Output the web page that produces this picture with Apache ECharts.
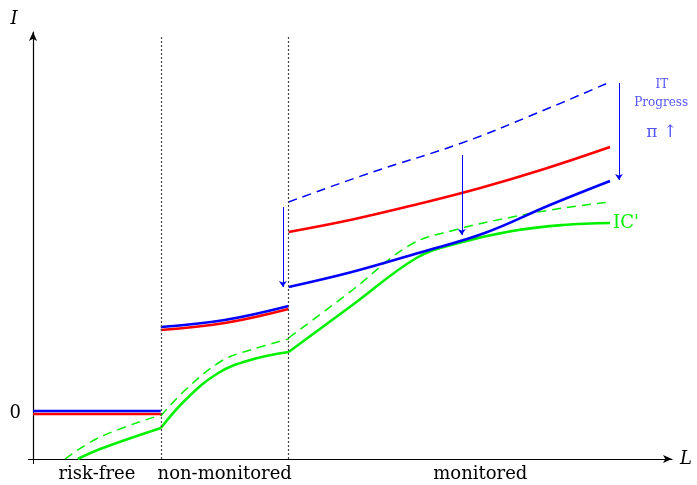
<!DOCTYPE html>
<html><head><meta charset="utf-8">
<script src="https://cdn.jsdelivr.net/npm/echarts@6/dist/echarts.min.js"></script>
<style>html,body{margin:0;padding:0;background:#fff}#c{width:697px;height:485px}</style>
</head><body><div id="c"></div>
<script>
// ---- data ----
const regionBounds = [2, 4];
const regionLabels = ['risk-free', 'non-monitored', 'monitored'];
const regionCenters = [1, 3, 7];
const yTickValues = [0];

const blueRiskFree = [[0, 0.2], [2, 0.2]];
const redRiskFree = [[0, -0.1], [2, -0.1]];
const greenRiskFree = [[0.7, -4.6], [1.05, -3.6], [2, -1.5]];
const greenDashRiskFree = [[0.5, -4.6], [1.05, -2.4], [2, -0.2]];

const blueNonMon = [[2, 8.6], [3, 9.3], [4, 10.7]];
const redNonMon = [[2, 8.3], [3, 9.0], [4, 10.4]];
const greenNonMon = [[2, -1.5], [2.4, 1.4], [2.9, 4.0], [3.4, 5.3], [4, 6.1]];
const greenDashNonMon = [[2, -0.3], [2.4, 2.4], [2.95, 5.2], [3.4, 6.3], [4, 7.4]];

const blueMon = [[4, 12.6], [4.99, 14.1], [6.03, 16.0], [7.07, 18.0], [8.09, 20.8], [9.03, 23.2]];
const redMon = [[4, 18.1], [5, 19.35], [6, 20.85], [7, 22.5], [8, 24.4], [9.03, 26.6]];
const blueDashMon = [[4, 21.1], [5.27, 24.0], [6.71, 27.0], [7.89, 30.0], [9.03, 33.1]];
const greenMon = [[4, 6.1], [5.0, 10.8], [6.0, 15.5], [6.6, 16.9], [7.5, 18.2], [8.3, 18.8], [9.03, 19.0]];
const greenDashMon = [[4, 7.5], [5.0, 12.3], [5.9, 16.8], [6.6, 18.3], [7.5, 19.6], [8.3, 20.5], [9.03, 21.1]];

const shiftArrows = [[[3.91, 20.6], [3.91, 12.6]], [[6.71, 25.8], [6.71, 17.8]], [[9.17, 33.0], [9.17, 23.3]]];
const annotationTexts = ['IT', 'Progress', 'π ↑'];
const annotationCoords = [[9.84, 32.8], [9.83, 31.0], [9.84, 28.0]];
const annotationSizes = [12, 12, 17];
const curveLabel = "IC'";

// ---- styles ----
const BLUE = '#0000ff', RED = '#ff0000', GREEN = '#00f000', NOTE = '#2828ff';
const FONT = 'DejaVu Serif';

function solid(data, color, extra) {
  return Object.assign({
    type: 'line', data: data, showSymbol: false, smooth: 0.4, clip: true,
    lineStyle: { color: color, width: 2.6 }, silent: true
  }, extra || {});
}
function dashed(data, color) {
  return {
    type: 'line', data: data, showSymbol: false, smooth: 0.4, clip: true,
    lineStyle: { color: color, width: 1.5, type: [9, 6] }, silent: true
  };
}

const chart = echarts.init(document.getElementById('c'), null, { renderer: 'canvas' });
chart.setOption({
  animation: false,
  backgroundColor: '#fff',
  grid: { left: 33, right: 25, top: 32, bottom: 26 },
  xAxis: {
    type: 'value', min: 0, max: 10,
    splitLine: { show: false },
    axisLine: { onZero: false, lineStyle: { color: '#000', width: 1.2 }, symbol: ['none', 'arrow'], symbolSize: [6, 9] },
    axisTick: { show: true, customValues: [0], length: 5, inside: false, lineStyle: { color: '#000' } },
    axisLabel: {
      customValues: regionCenters, margin: 6, color: '#000', fontFamily: FONT, fontSize: 18,
      formatter: function (v) { const i = regionCenters.indexOf(v); return i >= 0 ? regionLabels[i] : ''; }
    },
    name: 'L', nameLocation: 'end', nameGap: 8,
    nameTextStyle: { fontFamily: FONT, fontStyle: 'italic', fontSize: 18, color: '#000' }
  },
  yAxis: {
    type: 'value', min: -4.6, max: 38.1,
    splitLine: { show: false },
    axisLine: { onZero: false, lineStyle: { color: '#000', width: 1.2 }, symbol: ['none', 'arrow'], symbolSize: [6, 9] },
    axisTick: { show: true, customValues: [-4.6], length: 5, lineStyle: { color: '#000' } },
    axisLabel: { customValues: yTickValues, margin: 12, color: '#000', fontFamily: FONT, fontSize: 18 },
    name: 'I', nameLocation: 'end', nameGap: 4,
    nameTextStyle: { fontFamily: FONT, fontStyle: 'italic', fontSize: 18, color: '#000', padding: [0, 38, 0, 0] }
  },
  series: [
    {
      type: 'line', data: [], silent: true,
      markLine: {
        silent: true, symbol: ['none', 'none'], label: { show: false },
        lineStyle: { color: '#444', width: 1.2, type: [2, 2] },
        data: regionBounds.map(b => [{ coord: [b, -4.6] }, { coord: [b, 37.8] }])
      }
    },
    dashed(greenDashRiskFree, GREEN),
    dashed(greenDashNonMon, GREEN),
    dashed(greenDashMon, GREEN),
    solid(greenRiskFree, GREEN),
    solid(greenNonMon, GREEN),
    solid(greenMon, GREEN, {
      endLabel: { show: true, formatter: curveLabel, color: GREEN, fontFamily: FONT, fontSize: 18, distance: 3 }
    }),
    dashed(blueDashMon, BLUE),
    solid(redRiskFree, RED),
    solid(redNonMon, RED),
    solid(redMon, RED),
    solid(blueRiskFree, BLUE),
    solid(blueNonMon, BLUE),
    solid(blueMon, BLUE),
    {
      type: 'line', data: [], silent: true,
      markLine: {
        silent: true, symbol: ['none', 'arrow'], symbolSize: 6, label: { show: false },
        lineStyle: { color: BLUE, width: 1, type: 'solid' },
        data: shiftArrows.map(a => [{ coord: a[0] }, { coord: a[1] }])
      }
    },
    {
      type: 'scatter', silent: true, symbolSize: 1,
      itemStyle: { color: 'rgba(0,0,0,0)' },
      data: annotationCoords.map((c, i) => ({
        value: c,
        label: { show: true, position: 'inside', formatter: annotationTexts[i], color: NOTE, fontFamily: FONT, fontSize: annotationSizes[i] }
      }))
    }
  ]
});
</script>
</body></html>
